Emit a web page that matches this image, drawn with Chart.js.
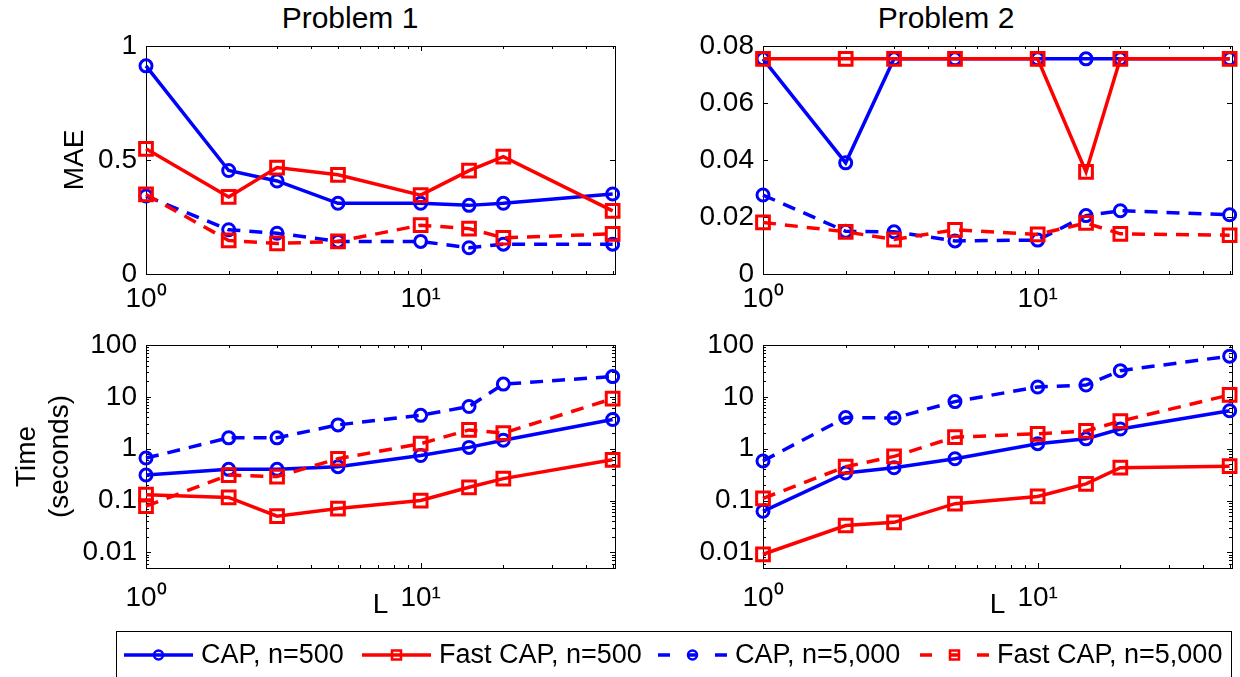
<!DOCTYPE html>
<html><head><meta charset="utf-8"><title>CAP vs Fast CAP</title>
<script src="https://cdn.jsdelivr.net/npm/chart.js@4.4.1/dist/chart.umd.min.js"></script>
<style>
html,body{margin:0;padding:0;background:#fff;}
body{width:1240px;height:677px;position:relative;overflow:hidden;font-family:"Liberation Sans",Arial,sans-serif;}
canvas{position:absolute;left:0;top:0;}
.ttl{position:absolute;font-size:30px;line-height:34px;white-space:nowrap;transform:translateX(-50%);color:#000;}
</style></head><body>
<div class="ttl" style="left:350px;top:1px">Problem 1</div>
<div class="ttl" style="left:946px;top:1px">Problem 2</div>
<canvas id="tl" width="1240" height="677"></canvas>
<canvas id="tr" width="1240" height="677"></canvas>
<canvas id="bl" width="1240" height="677"></canvas>
<canvas id="br" width="1240" height="677"></canvas>
<script>
const FONT = '"Liberation Sans", Arial, sans-serif';

// ---- data ----
const xValues = [1, 2, 3, 5, 10, 15, 20, 50];

const p1MaeCap500   = [0.913, 0.454, 0.408, 0.310, 0.310, 0.301, 0.310, 0.351];
const p1MaeFast500  = [0.549, 0.338, 0.467, 0.435, 0.346, 0.453, 0.515, 0.277];
const p1MaeCap5000  = [0.342, 0.194, 0.179, 0.143, 0.143, 0.115, 0.131, 0.131];
const p1MaeFast5000 = [0.349, 0.147, 0.134, 0.143, 0.214, 0.199, 0.159, 0.176];

const p2MaeCap500   = [0.0755, 0.0390, 0.0755, 0.0755, 0.0755, 0.0755, 0.0755, 0.0755];
const p2MaeFast500  = [0.0755, 0.0755, 0.0755, 0.0755, 0.0755, 0.0358, 0.0755, 0.0755];
const p2MaeCap5000  = [0.0277, 0.0150, 0.0148, 0.0116, 0.0119, 0.0205, 0.0222, 0.0208];
const p2MaeFast5000 = [0.0181, 0.0148, 0.0121, 0.0155, 0.0139, 0.0179, 0.0141, 0.0136];

const p1TimeCap500   = [0.31, 0.40, 0.40, 0.45, 0.74, 1.06, 1.46, 3.66];
const p1TimeFast500  = [0.13, 0.115, 0.050, 0.070, 0.100, 0.18, 0.265, 0.61];
const p1TimeCap5000  = [0.66, 1.62, 1.62, 2.88, 4.4, 6.5, 17.6, 24.6];
const p1TimeFast5000 = [0.078, 0.31, 0.29, 0.64, 1.25, 2.3, 2.0, 9.2];

const p2TimeCap500   = [0.062, 0.34, 0.43, 0.64, 1.25, 1.55, 2.4, 5.4];
const p2TimeFast500  = [0.0092, 0.033, 0.038, 0.087, 0.12, 0.21, 0.43, 0.46];
const p2TimeCap5000  = [0.58, 4.0, 3.9, 8.1, 15.5, 16.9, 32, 61];
const p2TimeFast5000 = [0.11, 0.45, 0.71, 1.67, 1.94, 2.2, 3.4, 10.9];

const seriesNames = ['CAP, n=500', 'Fast CAP, n=500', 'CAP, n=5,000', 'Fast CAP, n=5,000'];

// ---- ticks ----
const xTickValues = [1, 10];
const xTickLabels = ['10\u2070', '10\u00B9'];
const xMinorTicks = [2, 3, 4, 5, 6, 7, 8, 9, 20, 30, 40, 50];
const maeP1Ticks = [0, 0.5, 1];
const maeP1Labels = ['0', '0.5', '1'];
const maeP2Ticks = [0, 0.02, 0.04, 0.06, 0.08];
const maeP2Labels = ['0', '0.02', '0.04', '0.06', '0.08'];
const timeTicks = [0.01, 0.1, 1, 10, 100];
const timeLabels = ['0.01', '0.1', '1', '10', '100'];
const timeMinor = [0.005, 0.006, 0.007, 0.008, 0.009,
  0.02, 0.03, 0.04, 0.05, 0.06, 0.07, 0.08, 0.09,
  0.2, 0.3, 0.4, 0.5, 0.6, 0.7, 0.8, 0.9,
  2, 3, 4, 5, 6, 7, 8, 9, 20, 30, 40, 50, 60, 70, 80, 90];

// ---- style ----
const seriesColors = ['#0000ff', '#ff0000', '#0000ff', '#ff0000'];
const seriesPoint = ['circle', 'rect', 'circle', 'rect'];
const seriesDashed = [false, false, true, true];

const W = 1240, H = 677;

function makeDatasets(arrs) {
  return arrs.map((vals, i) => ({
    label: seriesNames[i],
    data: xValues.map((x, j) => ({ x: x, y: vals[j] })),
    borderColor: seriesColors[i],
    backgroundColor: seriesColors[i],
    borderWidth: 3.5,
    borderDash: seriesDashed[i] ? [13, 9] : [],
    pointStyle: seriesPoint[i],
    pointRadius: seriesPoint[i] === 'rect' ? 9 : 6,
    pointHoverRadius: seriesPoint[i] === 'rect' ? 9 : 6,
    pointBorderWidth: 3,
    pointBorderColor: seriesColors[i],
    pointBackgroundColor: 'rgba(0,0,0,0)',
    tension: 0,
    clip: false,
    order: 3 - i
  }));
}

const frameTicks = {
  id: 'frameTicks',
  beforeDatasetsDraw(chart, args, o) {
    const { ctx, chartArea: a } = chart;
    const x = chart.scales.x, y = chart.scales.y;
    ctx.save();
    ctx.strokeStyle = '#000';
    ctx.lineWidth = 1;
    ctx.strokeRect(Math.round(a.left) + 0.5, Math.round(a.top) + 0.5,
      Math.round(a.right - a.left), Math.round(a.bottom - a.top));
    ctx.beginPath();
    const xt = (vals, len) => vals.forEach(v => {
      const p = Math.round(x.getPixelForValue(v)) + 0.5;
      ctx.moveTo(p, a.bottom); ctx.lineTo(p, a.bottom - len);
      ctx.moveTo(p, a.top); ctx.lineTo(p, a.top + len);
    });
    const yt = (vals, len) => vals.forEach(v => {
      const p = Math.round(y.getPixelForValue(v)) + 0.5;
      ctx.moveTo(a.left, p); ctx.lineTo(a.left + len, p);
      ctx.moveTo(a.right, p); ctx.lineTo(a.right - len, p);
    });
    xt(o.xMajor, 5); xt(o.xMinor, 3);
    yt(o.yMajor, 5); yt(o.yMinor, 3);
    ctx.stroke();
    ctx.restore();
  }
};

const legendBox = {
  id: 'legendBox',
  afterDraw(chart, args, o) {
    const ctx = chart.ctx;
    ctx.save();
    ctx.fillStyle = '#fff';
    ctx.fillRect(o.left, o.top, o.right - o.left, o.bottom - o.top);
    ctx.strokeStyle = '#000';
    ctx.lineWidth = 1;
    ctx.strokeRect(o.left + 0.5, o.top + 0.5, o.right - o.left - 1, o.bottom - o.top);
    const cy = o.cy;
    chart.data.datasets.forEach((ds, i) => {
      const x0 = o.items[i], x1 = x0 + o.sample, xm = (x0 + x1) / 2;
      ctx.strokeStyle = ds.borderColor;
      ctx.lineWidth = 3.5;
      ctx.setLineDash([]);
      ctx.beginPath();
      if (ds.borderDash.length) {
        ctx.moveTo(x0, cy); ctx.lineTo(x0 + 12, cy);
        ctx.moveTo(x1 - 12, cy); ctx.lineTo(x1, cy);
        ctx.moveTo(xm - 4, cy); ctx.lineTo(xm + 4, cy);
      } else {
        ctx.moveTo(x0, cy); ctx.lineTo(x1, cy);
      }
      ctx.stroke();
      ctx.lineWidth = 2.5;
      ctx.beginPath();
      if (ds.pointStyle === 'rect') ctx.rect(xm - 4.5, cy - 4.5, 9, 9);
      else ctx.arc(xm, cy, 4.5, 0, Math.PI * 2);
      ctx.stroke();
      ctx.fillStyle = '#000';
      ctx.font = '27px ' + FONT;
      ctx.textBaseline = 'middle';
      ctx.textAlign = 'left';
      ctx.fillText(ds.label, x1 + o.gap, cy + 1);
    });
    ctx.restore();
  }
};

function makeChart(id, box, yCfg, arrs, opt) {
  const YW = opt.YW, XH = opt.XH;
  const extra = [frameTicks];
  if (opt.legend) extra.push(legendBox);
  return new Chart(document.getElementById(id), {
    type: 'line',
    data: { datasets: makeDatasets(arrs) },
    options: {
      responsive: false, animation: false, devicePixelRatio: 1, events: [],
      layout: { autoPadding: false, padding: { left: box.l - YW, top: box.t, right: W - box.r, bottom: H - box.b - XH } },
      plugins: {
        legend: { display: false }, tooltip: { enabled: false }, title: { display: false },
        frameTicks: { xMajor: xTickValues, xMinor: xMinorTicks, yMajor: yCfg.ticks, yMinor: yCfg.minor },
        legendBox: opt.legend || {}
      },
      scales: {
        x: {
          type: 'logarithmic', position: 'bottom', min: 1, max: 51,
          afterBuildTicks: s => { s.ticks = xTickValues.map(v => ({ value: v })); },
          afterFit: s => { s.height = XH; s.paddingLeft = 0; s.paddingRight = 0; },
          grid: { display: false, drawTicks: false }, border: { display: false },
          ticks: { autoSkip: false, maxRotation: 0, minRotation: 0, padding: opt.xPad, color: '#000',
            font: { family: FONT, size: 28 }, callback: (v, i) => xTickLabels[i] },
          title: { display: !!opt.xTitle, text: opt.xTitle || '', color: '#000', font: { family: FONT, size: 28 }, padding: 0 }
        },
        y: {
          type: yCfg.type, position: 'left', min: yCfg.min, max: yCfg.max,
          afterBuildTicks: s => { s.ticks = yCfg.ticks.map(v => ({ value: v })); },
          afterFit: s => { s.width = YW; s.paddingTop = 0; s.paddingBottom = 0; },
          grid: { display: false, drawTicks: false }, border: { display: false },
          ticks: { autoSkip: false, padding: 9, color: '#000', font: { family: FONT, size: 28 },
            callback: (v, i) => yCfg.labels[i] },
          title: { display: !!opt.yTitle, text: opt.yTitle || '', color: '#000', font: { family: FONT, size: 28 }, padding: 0 }
        }
      }
    },
    plugins: extra
  });
}

const boxTL = { l: 146, t: 46, r: 615, b: 274 };
const boxTR = { l: 763, t: 46, r: 1232, b: 274 };
const boxBL = { l: 146, t: 345, r: 615, b: 568 };
const boxBR = { l: 763, t: 345, r: 1232, b: 568 };

makeChart('tl', boxTL, { type: 'linear', min: 0, max: 1, ticks: maeP1Ticks, labels: maeP1Labels, minor: [] },
  [p1MaeCap500, p1MaeFast500, p1MaeCap5000, p1MaeFast5000],
  { YW: 146 - 75 + 16.8, XH: 60, xPad: 8, yTitle: 'MAE' });

makeChart('tr', boxTR, { type: 'linear', min: 0, max: 0.08, ticks: maeP2Ticks, labels: maeP2Labels, minor: [] },
  [p2MaeCap500, p2MaeFast500, p2MaeCap5000, p2MaeFast5000],
  { YW: 100, XH: 60, xPad: 8 });

makeChart('bl', boxBL, { type: 'logarithmic', min: 0.005, max: 100, ticks: timeTicks, labels: timeLabels, minor: timeMinor },
  [p1TimeCap500, p1TimeFast500, p1TimeCap5000, p1TimeFast5000],
  { YW: 146 - 27 + 16.8, XH: 53.8, xPad: 13, yTitle: ['Time', '(seconds)'], xTitle: 'L' });

makeChart('br', boxBR, { type: 'logarithmic', min: 0.005, max: 100, ticks: timeTicks, labels: timeLabels, minor: timeMinor },
  [p2TimeCap500, p2TimeFast500, p2TimeCap5000, p2TimeFast5000],
  { YW: 100, XH: 53.8, xPad: 13, xTitle: 'L',
    legend: { left: 116, right: 1232, top: 631, bottom: 677, cy: 655, items: [124, 362, 658, 920], sample: 69, gap: 8 } });
</script>
</body></html>
